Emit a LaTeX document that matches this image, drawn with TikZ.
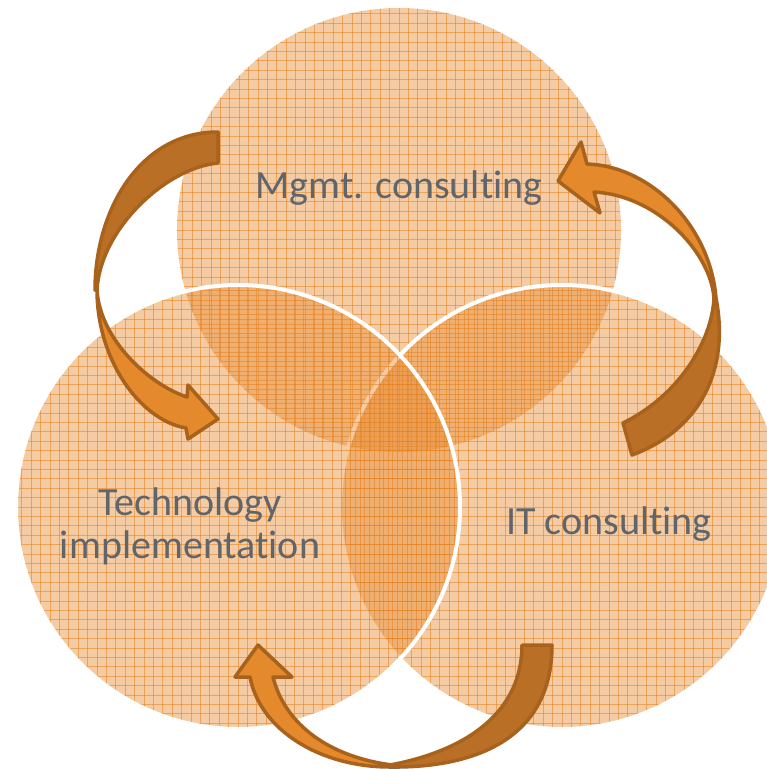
\documentclass[tikz,border=0pt]{standalone}
\usepackage{fontspec}
\setmainfont{Carlito}[Ligatures={NoCommon}]
\begin{document}
\begin{tikzpicture}[x=1pt,y=-1pt]
\definecolor{venn}{RGB}{232,140,50}
\definecolor{gridc}{RGB}{228,128,30}
\definecolor{arrowline}{RGB}{168,98,28}
\definecolor{arrowdark}{RGB}{185,112,38}
\definecolor{arrowlight}{RGB}{229,138,44}
\definecolor{txt}{RGB}{96,100,107}
\tikzset{
  vennfill/.style={fill=venn, fill opacity=0.45, draw=none},
  gridline/.style={draw=gridc, draw opacity=0.55, line width=0.8},
  whiteedge/.style={draw=white, line width=4},
  backpart/.style={fill=arrowdark, draw=arrowline, line width=3.5, line join=round},
  frontpart/.style={fill=arrowlight, draw=arrowline, line width=3.5, line join=round},
  label/.style={text=txt, font=\fontsize{40}{43}\selectfont, inner sep=0pt, align=center}
}
\useasboundingbox (0,0) rectangle (767,769);

\coordinate (ctop) at (399,230);
\coordinate (cleft) at (238,507);
\coordinate (cright) at (562,507);

% top circle
\fill[vennfill] (ctop) circle[radius=222];
\begin{scope}
  \clip (ctop) circle[radius=222];
  \foreach \k in {-24,...,24} {
    \draw[gridline] (399+\k*9.4,0) -- (399+\k*9.4,460);
    \draw[gridline] (170,230+\k*9.4) -- (630,230+\k*9.4);
  }
\end{scope}

% right circle
\fill[vennfill] (cright) circle[radius=222];
\begin{scope}
  \clip (cright) circle[radius=222];
  \foreach \k in {-24,...,24} {
    \draw[gridline] (562+\k*9.4,280) -- (562+\k*9.4,735);
    \draw[gridline] (335,507+\k*9.4) -- (790,507+\k*9.4);
  }
\end{scope}
\draw[whiteedge] (cright) circle[radius=222];

% left circle
\fill[vennfill] (cleft) circle[radius=222];
\begin{scope}
  \clip (cleft) circle[radius=222];
  \foreach \k in {-24,...,24} {
    \draw[gridline] (238+\k*9.4,280) -- (238+\k*9.4,735);
    \draw[gridline] (10,507+\k*9.4) -- (465,507+\k*9.4);
  }
\end{scope}
\draw[whiteedge] (cleft) circle[radius=222];

% labels
\node[label] (mgmt) at (399,188) {Mgmt. consulting};
\node[label] (tech) at (190,526) {Technology\\implementation};
\node[label] (itc) at (609,524) {IT consulting};

% left arrow (top -> left)
\draw[backpart] (218,132) .. controls (140,132) and (95,210) .. (95,290)
  -- (97,290) .. controls (100,230) and (165,168) .. (218,163) -- cycle;
\draw[frontpart] (97,290) .. controls (97,360) and (140,420) .. (186,428)
  -- (188,439) -- (218,419) -- (188,385) -- (187,397)
  .. controls (150,385) and (100,340) .. (97,290) -- cycle;

% right arrow (right -> top)
\draw[backpart] (623,423) -- (632,455) .. controls (700,430) and (730,370) .. (716,298)
  -- (714,298) .. controls (712,340) and (680,395) .. (623,423) -- cycle;
\draw[frontpart] (716,298) .. controls (710,225) and (650,166) .. (587,164)
  -- (581,142) -- (558,181) -- (600,213) -- (594,192)
  .. controls (655,195) and (710,250) .. (714,298) -- cycle;

% bottom arrow (right -> left)
\draw[backpart] (522,645) -- (552,645) .. controls (552,745) and (465,768) .. (390,767)
  -- (390,765) .. controls (470,750) and (522,710) .. (522,645) -- cycle;
\draw[frontpart] (390,767) .. controls (320,767) and (260,730) .. (250,677)
  -- (235,677) -- (258,645) -- (292,677) -- (273,677)
  .. controls (285,725) and (330,757) .. (392,765) -- cycle;
\end{tikzpicture}
\end{document}
